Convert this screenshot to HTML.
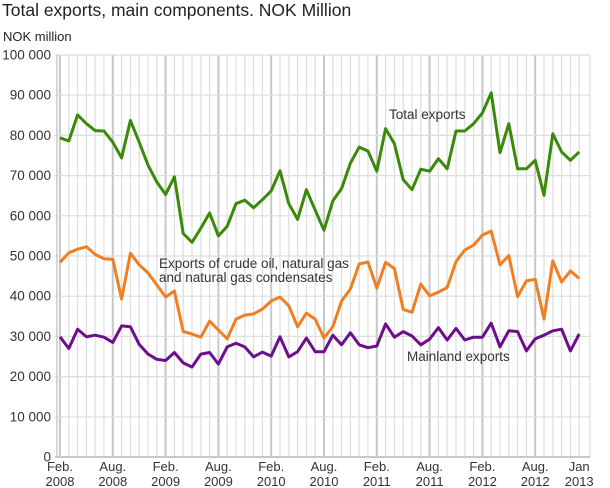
<!DOCTYPE html>
<html><head><meta charset="utf-8"><style>
body{margin:0;background:#fff;}
svg{display:block;font-family:"Liberation Sans",sans-serif;}
</style></head><body>
<svg width="610" height="488" xmlns="http://www.w3.org/2000/svg">
<text x="2" y="16" font-size="17.5" fill="#222">Total exports, main components. NOK Million</text>
<text x="3" y="41" font-size="13" fill="#222">NOK million</text>
<g id="grid"></g>
<g id="ylab" font-size="13.5" fill="#333" text-anchor="end"></g>
<g id="xlab" font-size="13" fill="#333" text-anchor="middle"></g>
<g id="lines" fill="none" stroke-width="3" stroke-linejoin="round"></g>
<text x="389" y="119" font-size="13.5" fill="#333">Total exports</text>
<text x="159" y="268" font-size="13.5" fill="#333">Exports of crude oil, natural gas</text>
<text x="159" y="282" font-size="13.5" fill="#333">and natural gas condensates</text>
<text x="407" y="361" font-size="13.5" fill="#333">Mainland exports</text>
<script>
var NS="http://www.w3.org/2000/svg";
function el(p,t,a,txt){var e=document.createElementNS(NS,t);for(var k in a)e.setAttribute(k,a[k]);if(txt!==undefined)e.textContent=txt;document.getElementById(p).appendChild(e);}
var x0=60,dx=8.8,y0=457,sy=4.02;
function X(i){return x0+dx*i;} function Y(v){return y0-v*sy;}
for(var i=0;i<60;i++){var x=X(i);var dark=(i%6==0);el("grid","line",{x1:x,x2:x,y1:55,y2:y0,stroke:dark?"#c8c8c8":"#dedede","stroke-width":dark?2:1.2});}
el("grid","line",{x1:590,x2:590,y1:55,y2:y0,stroke:"#dedede","stroke-width":1.2});
for(var v=0;v<=100;v+=10){el("grid","line",{x1:55,x2:590,y1:Y(v),y2:Y(v),stroke:v==0?"#c8c8c8":"#dedede","stroke-width":v==0?2:1.2});
el("ylab","text",{x:51,y:Y(v)+4.5},v==0?"0":(v==100?"100 000":v+" 000"));}
el("grid","line",{x1:57,x2:57,y1:55,y2:y0,stroke:"#c8c8c8","stroke-width":1.5});
var xl=[["Feb.","2008"],["Aug.","2008"],["Feb.","2009"],["Aug.","2009"],["Feb.","2010"],["Aug.","2010"],["Feb.","2011"],["Aug.","2011"],["Feb.","2012"],["Aug.","2012"]];
for(var j=0;j<10;j++){el("xlab","text",{x:X(j*6),y:471},xl[j][0]);el("xlab","text",{x:X(j*6),y:486},xl[j][1]);}
el("xlab","text",{x:X(59),y:471},"Jan");el("xlab","text",{x:X(59),y:486},"2013");
var G=[79.4,78.6,85.1,82.9,81.2,81.1,78.3,74.4,83.7,78.3,72.6,68.4,65.3,69.7,55.6,53.4,56.9,60.7,55,57.4,63,63.9,62,64,66.2,71.2,63,59.1,66.5,61.4,56.4,63.7,66.8,73.1,77.1,76.1,71.1,81.7,77.9,69,66.5,71.6,71.1,74.2,71.7,81.1,81.1,82.9,85.6,90.6,75.7,82.9,71.7,71.7,73.8,65.1,80.4,75.9,73.8,75.9];
var O=[48.4,50.8,51.7,52.3,50.4,49.3,49.2,39.3,50.7,47.8,45.8,42.8,39.8,41.3,31.2,30.6,29.8,33.8,31.6,29.4,34.3,35.3,35.6,36.8,38.8,39.8,37.6,32.4,35.8,34.3,29.6,32.4,38.8,41.8,48,48.5,42,48.4,46.9,36.7,36,43,40.1,41,42.2,48.6,51.5,52.7,55.2,56.2,47.8,50.1,39.9,43.8,44.2,34.3,48.8,43.5,46.3,44.4];
var P=[29.9,27,31.8,29.9,30.3,29.8,28.5,32.6,32.4,28,25.6,24.3,24,26,23.4,22.4,25.6,26,23.1,27.4,28.3,27.4,24.9,26.1,25.1,29.9,24.9,26.2,29.6,26.2,26.2,30.3,27.9,30.9,27.9,27.2,27.6,33.1,29.8,31.2,30.1,27.9,29.3,32.2,29.1,32,29.1,29.8,29.8,33.3,27.4,31.4,31.2,26.4,29.4,30.3,31.4,31.8,26.4,30.6];
function pl(d,c){var s=d.map(function(v,i){return X(i).toFixed(1)+","+Y(v).toFixed(1);}).join(" ");el("lines","polyline",{points:s,stroke:c});}
pl(G,"#3a8a0a");pl(O,"#f07f23");pl(P,"#6d0f8c");
</script>
</svg>
</body></html>
